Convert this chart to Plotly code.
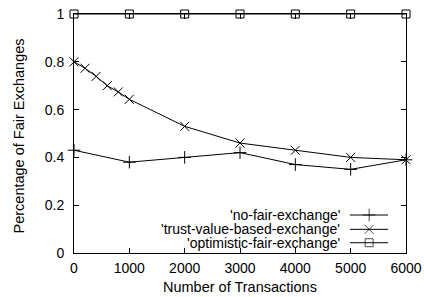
import plotly.graph_objects as go

x_no = [0, 1000, 2000, 3000, 4000, 5000, 6000]
y_no = [0.43, 0.38, 0.40, 0.42, 0.37, 0.35, 0.39]

x_trust = [0, 200, 400, 600, 800, 1000, 2000, 3000, 4000, 5000, 6000]
y_trust = [0.80, 0.773, 0.739, 0.70, 0.674, 0.643, 0.53, 0.46, 0.43, 0.40, 0.39]

x_opt = [0, 1000, 2000, 3000, 4000, 5000, 6000]
y_opt = [1, 1, 1, 1, 1, 1, 1]

names = ["'no-fair-exchange'", "'trust-value-based-exchange'", "'optimistic-fair-exchange'"]
symbols = ["cross-thin-open", "x-thin-open", "square-open"]
sizes = [9, 9, 8]

x_ticks = [0, 1000, 2000, 3000, 4000, 5000, 6000]
y_ticks = [0, 0.2, 0.4, 0.6, 0.8, 1]
y_tick_text = ["0", "0.2", "0.4", "0.6", "0.8", "1"]

x_title = "Number of Transactions"
y_title = "Percentage of Fair Exchanges"

FONT = "Liberation Sans, Arial, Helvetica, sans-serif"
FS = 14
FS_L = 14
FS_T = 14.5
fig = go.Figure()

series = [(x_no, y_no), (x_trust, y_trust), (x_opt, y_opt)]
for (xs, ys), nm, sym, sz in zip(series, names, symbols, sizes):
    fig.add_trace(go.Scatter(
        x=xs, y=ys, mode="lines+markers", name=nm, showlegend=False,
        line=dict(color="black", width=1),
        marker=dict(symbol=sym, size=sz, color="black", line=dict(color="black", width=1)),
        cliponaxis=False,
    ))

# gnuplot-style key: text right-aligned, sample to its right
leg_y = [0.159, 0.099, 0.043]
for nm, sym, sz, ly in zip(names, symbols, sizes, leg_y):
    fig.add_trace(go.Scatter(
        x=[0.831, 0.889, 0.946], y=[ly, ly, ly], xaxis="x2", yaxis="y2",
        mode="lines+markers", showlegend=False, hoverinfo="skip",
        line=dict(color="black", width=1),
        marker=dict(symbol=sym, size=[0, sz, 0], color="black", line=dict(color="black", width=1)),
        cliponaxis=False,
    ))
    fig.add_annotation(x=0.807, y=ly, xref="x2", yref="y2", text=nm, showarrow=False,
                       xanchor="right", yanchor="middle", font=dict(family=FONT, size=FS_L, color="black"))

fig.add_annotation(x=0.5, y=0, xref="paper", yref="paper", yshift=-34, text=x_title, showarrow=False,
                   xanchor="center", yanchor="middle", font=dict(family=FONT, size=FS_T, color="black"))
fig.add_annotation(x=0, y=0.5, xref="paper", yref="paper", xshift=-56, yshift=-3, text=y_title, showarrow=False,
                   textangle=-90, xanchor="center", yanchor="middle", font=dict(family=FONT, size=FS_T, color="black"))

axis_common = dict(showgrid=False, zeroline=False, showline=True, linecolor="black", linewidth=1,
                   mirror="ticks", ticks="inside", ticklen=5, tickcolor="black", tickwidth=1,
                   automargin=False, tickfont=dict(family=FONT, size=FS, color="black"))

fig.update_layout(
    width=424, height=297,
    margin=dict(l=74, r=18, t=14, b=44),
    paper_bgcolor="white", plot_bgcolor="white",
    xaxis=dict(range=[0, 6000], tickvals=x_ticks, ticktext=[str(v) for v in x_ticks],
               ticklabelstandoff=2, **axis_common),
    yaxis=dict(range=[0, 1], tickvals=y_ticks, ticktext=y_tick_text, ticklabelstandoff=6, **axis_common),
    xaxis2=dict(range=[0, 1], overlaying="x", visible=False),
    yaxis2=dict(range=[0, 1], overlaying="y", visible=False),
)

fig.write_html("out.html", config={"displayModeBar": False},
               post_script="document.body.style.margin='0';document.body.style.overflow='hidden';")
